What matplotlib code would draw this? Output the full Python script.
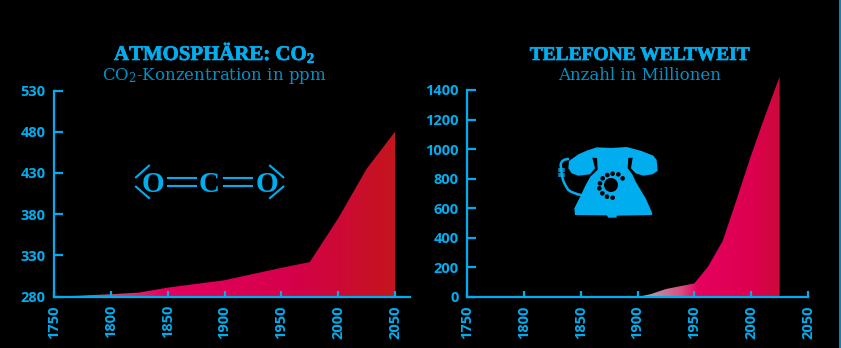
import matplotlib
matplotlib.use("Agg")
import matplotlib.pyplot as plt
import matplotlib.patheffects as pe
import numpy as np
from matplotlib.colors import LinearSegmentedColormap
from matplotlib.lines import Line2D
from matplotlib.patches import Circle, PathPatch, Polygon
from matplotlib.path import Path

plt.rcParams["mathtext.fontset"] = "custom"
plt.rcParams["mathtext.rm"] = "DejaVu Serif"
plt.rcParams["mathtext.bf"] = "Liberation Serif:bold"

W, H = 841, 348
CYAN = "#00aeef"
SUB = "#0091c8"
TITLE_FONT = ["Liberation Serif", "DejaVu Serif"]
SUB_FONT = ["DejaVu Serif"]
NUM = "Open Sans"

# CO2 concentration in ppm
co2_years = [1750, 1800, 1825, 1850, 1900, 1950, 1975, 2000, 2025, 2050]
co2_ppm = [280, 283, 285, 291, 300, 315, 322, 375, 435, 480]
co2_xticks = [1750, 1800, 1850, 1900, 1950, 2000, 2050]
co2_yticks = [280, 330, 380, 430, 480, 530]

# telephones worldwide in millions
tel_years = [1900, 1912, 1925, 1950, 1962, 1975, 1987, 2000, 2012, 2025]
tel_count = [0, 20, 54, 92, 205, 380, 655, 960, 1220, 1490]
tel_xticks = [1750, 1800, 1850, 1900, 1950, 2000, 2050]
tel_yticks = [0, 200, 400, 600, 800, 1000, 1200, 1400]

fig = plt.figure(figsize=(W / 100, H / 100), dpi=100, facecolor="black")


def px_axes(x0, x1, y_bottom, y_top):
    return fig.add_axes([x0 / W, 1 - y_bottom / H, (x1 - x0) / W, (y_bottom - y_top) / H])


def gradient_area(ax, xs, ys, stops, base):
    """Area under a series, filled with a left-to-right colour ramp."""
    cmap = LinearSegmentedColormap.from_list("ramp", stops)
    ramp = np.linspace(0, 1, 256).reshape(1, -1)
    im = ax.imshow(ramp, cmap=cmap, aspect="auto", zorder=1,
                   extent=[xs[0], xs[-1], base, max(ys)])
    verts = [(xs[0], base)] + list(zip(xs, ys)) + [(xs[-1], base), (xs[0], base)]
    clip = Polygon(verts, closed=True, transform=ax.transData)
    im.set_clip_path(clip)


def style_axes(ax, xlim, ylim, xticks, yticks, ybounds, xbounds):
    ax.set_facecolor("none")
    ax.set_xlim(*xlim)
    ax.set_ylim(*ylim)
    for side in ("top", "right"):
        ax.spines[side].set_visible(False)
    for side in ("left", "bottom"):
        ax.spines[side].set_color(CYAN)
        ax.spines[side].set_linewidth(1.6)
        ax.spines[side].set_zorder(5)
    ax.spines["left"].set_bounds(*ybounds)
    ax.spines["bottom"].set_bounds(*xbounds)
    ax.set_xticks(xticks)
    ax.set_yticks(yticks)
    ax.tick_params(axis="y", direction="in", length=6.5, width=1.6, color=CYAN, pad=6,
                   labelcolor=CYAN)
    ax.tick_params(axis="x", direction="in", length=4.5, width=1.6, color=CYAN, pad=6,
                   labelcolor=CYAN)
    for lab in ax.get_yticklabels():
        lab.set(fontfamily=NUM, fontweight="bold", fontsize=10.5)
    for lab in ax.get_xticklabels():
        lab.set(fontfamily=NUM, fontweight="bold", fontsize=10.5, rotation=90)


PX_PER_YEAR = 1.1367

# left panel
ax1 = px_axes(54, 410, 296.7, 90.5)
gradient_area(ax1, co2_years, co2_ppm,
              [(0.0, "#333333"), (0.10, "#9a6a80"), (0.22, "#d8306c"), (0.32, "#e6005f"),
               (0.70, "#d4004a"), (1.0, "#c4151c")], 280)
x1_end = 1750 + (410 - 54) / PX_PER_YEAR
style_axes(ax1, (1750, x1_end), (280, 530), co2_xticks, co2_yticks, (280, 530), (1750, x1_end))

# right panel
ax2 = px_axes(467, 808.5, 297, 70)
gradient_area(ax2, tel_years, tel_count,
              [(0.0, "#aaaaaa"), (0.12, "#c08aa0"), (0.30, "#d85080"), (0.42, "#e6005f"),
               (0.80, "#dc004f"), (1.0, "#cc0a3a")], 0)
style_axes(ax2, (1750, 1750 + (808.5 - 467) / PX_PER_YEAR), (0, 227 / 0.1479), tel_xticks, tel_yticks,
           (0, 1400), (1750, 2050))

# overlay in pixel coordinates for headings and pictograms
ov = fig.add_axes([0, 0, 1, 1], facecolor="none")
ov.set_xlim(0, W)
ov.set_ylim(H, 0)
ov.axis("off")

heavier = [pe.withStroke(linewidth=0.5, foreground=CYAN)]
ov.text(215, 60, r"ATMOSPHÄRE: CO$\mathbf{_2}$", color=CYAN, family=TITLE_FONT, fontweight="bold",
        fontsize=15, ha="center", va="baseline", path_effects=heavier)
ov.text(640, 60, "TELEFONE WELTWEIT", color=CYAN, family=TITLE_FONT, fontweight="bold",
        fontsize=14, ha="center", va="baseline", path_effects=heavier)
ov.text(214.5, 80, r"CO$\mathrm{_2}$-Konzentration in ppm", color=SUB, family=SUB_FONT,
        fontsize=12, ha="center", va="baseline")
ov.text(640, 80, "Anzahl in Millionen", color=SUB, family=SUB_FONT,
        fontsize=12, ha="center", va="baseline")

# carbon dioxide structural formula
for x, s in [(152.7, "O"), (209, "C"), (266.7, "O")]:
    ov.text(x, 192, s, color=CYAN, family=TITLE_FONT, fontweight="bold", fontsize=21,
            ha="center", va="baseline")
for x0, x1 in [(168, 195.7), (224, 251.7)]:
    for y in (177.7, 186):
        ov.add_line(Line2D([x0, x1], [y, y], color=CYAN, lw=1.5))
for xa, ya, xb, yb in [(136, 177.3, 149, 165.7), (136, 186.7, 149, 198),
                       (270, 165.7, 283.3, 177.3), (270, 198, 283.3, 186.7)]:
    ov.add_line(Line2D([xa, xb], [ya, yb], color=CYAN, lw=1.5))


# telephone pictogram, outlined in a local 375x270 grid
def ph(points):
    return [(545 + x / 3, 135 + y / 3) for x, y in points]


handset = [(72, 78), (100, 58), (125, 47), (155, 37), (200, 39), (245, 36), (290, 48), (325, 62),
           (335, 75), (338, 108), (322, 118), (295, 122), (272, 115), (258, 100), (263, 68),
           (200, 72), (142, 68), (150, 100), (135, 118), (100, 122), (80, 115), (70, 100)]
body = [(156, 66), (250, 66), (248, 100), (262, 118), (272, 140), (302, 190), (322, 235), (320, 240),
        (215, 242), (215, 248), (190, 248), (185, 241), (90, 240), (88, 220), (108, 180), (122, 150),
        (136, 125), (158, 104)]
ov.add_patch(Polygon(ph(handset), closed=True, fc=CYAN, ec="none"))
ov.add_patch(Polygon(ph(body), closed=True, fc=CYAN, ec="none"))
cord = Path(ph([(72, 72), (48, 72), (47, 90), (50, 115), (52, 140), (70, 165), (88, 178), (110, 180)]),
            [Path.MOVETO] + [Path.CURVE3] * 2 + [Path.LINETO] + [Path.CURVE3] * 4)
ov.add_patch(PathPatch(cord, fc="none", ec=CYAN, lw=1.8))
for y in (102, 109, 116, 123):
    ov.add_line(Line2D(*zip(*ph([(43, y), (57, y)])), color=CYAN, lw=1.1))
ov.add_patch(Circle(ph([(198, 150)])[0], 7.0, fc="black", ec="none"))
dial = [(233, 130), (220, 118), (203, 116), (187, 120), (173, 130), (165, 145), (163, 160), (172, 175),
        (186, 185), (203, 188)]
for c in ph(dial):
    ov.add_patch(Circle(c, 2.3, fc="black", ec="none"))

# thin rule at the right edge of the page
ov.add_line(Line2D([840, 840], [0, H], color="#1088b8", lw=1.4))

fig.savefig("out.png", dpi=100, facecolor="black")
